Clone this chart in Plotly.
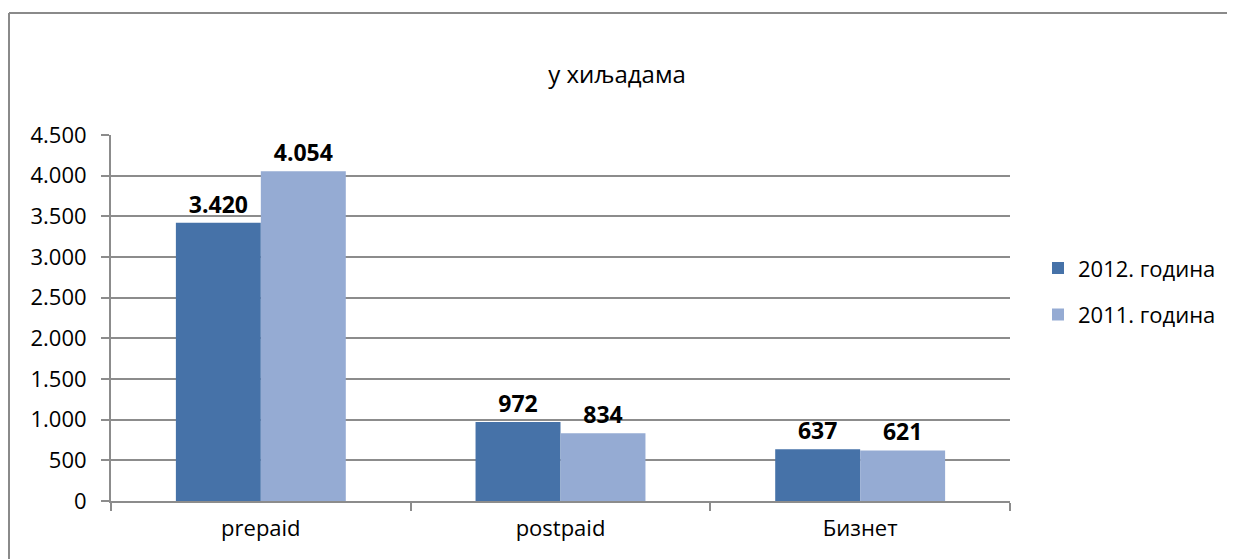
import plotly.graph_objects as go

# Категорије и вредности (у хиљадама)
categories = ['prepaid', 'postpaid', 'Бизнет']
values_2012 = [3420, 972, 637]
values_2011 = [4054, 834, 621]
series_names = ['2012. година', '2011. година']
tick_values = [0, 500, 1000, 1500, 2000, 2500, 3000, 3500, 4000, 4500]

font_family = 'Open Sans, Noto Sans, sans-serif'
grid_color = '#8c8c8c'

fig = go.Figure()
for name, vals, color in [(series_names[0], values_2012, '#4672a8'),
                          (series_names[1], values_2011, '#95abd3')]:
    fig.add_trace(go.Bar(
        x=categories, y=vals, name=name, marker_color=color, marker_line_width=0,
        texttemplate='<b>%{y:,}</b>', textposition='outside', cliponaxis=False,
        textfont=dict(size=23, color='black', family=font_family),
        legendgroup=name,
    ))

# Оквир графикона (видљиве су само горња и лева ивица)
bx0 = (9 - 111) / 899
by1 = (501 - 13) / 366
fig.add_shape(type='line', xref='paper', yref='paper', x0=bx0, x1=(1300 - 111) / 899,
              y0=by1, y1=by1, line=dict(color='#8a8a8a', width=2), layer='below')
fig.add_shape(type='line', xref='paper', yref='paper', x0=bx0, x1=bx0,
              y0=(501 - 600) / 366, y1=by1, line=dict(color='#8a8a8a', width=2), layer='below')

fig.update_layout(
    width=1227, height=551,
    margin=dict(l=103, r=225, t=127, b=58),
    paper_bgcolor='white', plot_bgcolor='white',
    separators=',.',
    font=dict(family=font_family, size=22, color='black'),
    title=dict(text='у хиљадама', x=(617 - 8) / 1227, xref='container', xanchor='center',
               y=1 - 67 / 551, yref='container', yanchor='middle',
               font=dict(size=24)),
    barmode='group', bargap=0.433, bargroupgap=0,
    legend=dict(x=(1038 - 111) / 899, xanchor='left', y=0.572, yanchor='middle',
                font=dict(size=22), tracegroupgap=15, itemwidth=30),
    showlegend=True,
)
fig.update_yaxes(range=[0, 4500], tickvals=tick_values, tickformat=',d',
                 showgrid=True, gridcolor=grid_color, gridwidth=2,
                 showline=True, linecolor=grid_color, linewidth=2,
                 ticks='outside', ticklen=8, tickcolor=grid_color, tickwidth=2,
                 zeroline=False, tickfont=dict(size=22), ticklabelstandoff=10)
fig.update_xaxes(showline=True, linecolor=grid_color, linewidth=2,
                 ticks='outside', tickson='boundaries', ticklen=8,
                 tickcolor=grid_color, tickwidth=2, tickfont=dict(size=22),
                 ticklabelstandoff=7)

fig.write_html('out.html')
